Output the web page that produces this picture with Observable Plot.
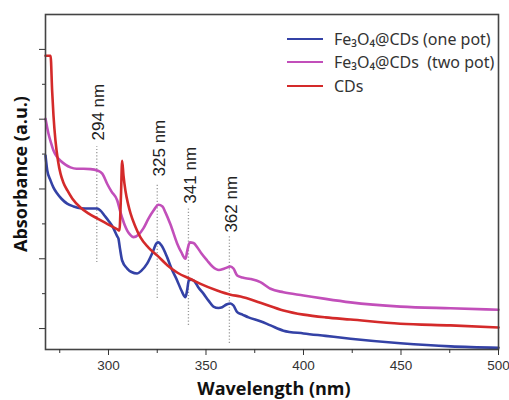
<!DOCTYPE html>
<html><head><meta charset="utf-8">
<script src="https://cdn.jsdelivr.net/npm/d3@7"></script>
<script src="https://cdn.jsdelivr.net/npm/@observablehq/plot@0.6"></script>
<style>
body{margin:0;background:#fff;}
#wrap{position:relative;width:509px;height:400px;}
#legend{position:absolute;left:287px;top:27px;font-family:"Noto Sans",sans-serif;font-size:16px;color:#333;}
.row{display:flex;align-items:center;height:23.5px;white-space:pre;}
.sw{width:36px;height:0;border-top:2.5px solid;margin-right:11px;}
</style></head><body><div id="wrap"></div>
<script>
// [wavelength (nm), absorbance (a.u.)]
const onePot = [[267.7,5.96],[268.6,5.53],[270.3,5.24],[271.8,5.04],[273.7,4.87],[275.9,4.72],[278.8,4.58],[282.1,4.50],[285.6,4.45],[290.8,4.44],[294.2,4.44],[295.9,4.38],[297.9,4.24],[300,4.09],[302.1,3.92],[304.5,3.64],[305.1,3.58],[305.9,3.29],[307.0,2.95],[309.6,2.72],[311.8,2.62],[314.7,2.58],[316.9,2.66],[319.8,2.86],[322.6,3.18],[324.6,3.44],[325.6,3.47],[327.2,3.38],[330.1,3.04],[332.3,2.72],[335.2,2.38],[337.4,2.09],[339.5,1.90],[340.3,2.09],[341.2,2.38],[342.3,2.40],[343.6,2.38],[346.2,2.17],[348.7,2.00],[351.3,1.80],[353.8,1.63],[356.4,1.59],[358.3,1.61],[360.5,1.69],[362.6,1.72],[364.1,1.66],[366.0,1.47],[368.7,1.40],[371.8,1.32],[377.9,1.21],[383.1,1.09],[389.7,0.94],[400,0.86],[411.3,0.79],[424.1,0.71],[449.7,0.58],[475.4,0.49],[500,0.45]];
const twoPot = [[267.7,7.01],[269.2,6.59],[270.5,6.33],[271.8,6.10],[273.3,5.94],[275.4,5.81],[277.9,5.70],[280.5,5.62],[283.6,5.58],[287.2,5.58],[290.8,5.57],[294.2,5.53],[296.8,5.44],[299.3,5.15],[301.5,4.93],[304.5,4.67],[306.2,4.32],[307.0,4.18],[308.2,3.98],[309.6,3.81],[311.3,3.68],[312.8,3.62],[315.4,3.69],[317.9,3.87],[320.5,4.15],[323.1,4.38],[325.6,4.55],[327.7,4.50],[329.2,4.33],[331.8,3.98],[335.2,3.44],[337.4,3.18],[339.5,3.00],[340.4,3.23],[341.7,3.47],[343.6,3.45],[345.5,3.33],[347.7,3.15],[350.6,2.95],[353.3,2.78],[356.6,2.68],[359.5,2.72],[362.6,2.78],[364.1,2.72],[366.0,2.52],[368.7,2.46],[372.8,2.42],[377.9,2.33],[383.1,2.14],[389.7,2.04],[400,1.95],[411.3,1.85],[424.1,1.75],[449.7,1.63],[475.4,1.58],[500,1.54]];
const cds = [[267.7,8.82],[270.3,8.82],[271.1,7.82],[271.8,7.10],[272.8,6.39],[274.1,5.81],[275.4,5.44],[276.9,5.18],[279.0,4.95],[281.5,4.72],[285.6,4.47],[289.7,4.30],[294.4,4.15],[298,4.04],[301.0,3.95],[304.6,3.84],[305.6,3.81],[306.4,4.81],[307.0,5.81],[307.7,5.38],[308.7,4.95],[310,4.58],[311.3,4.30],[313.8,3.92],[316.4,3.61],[320.5,3.32],[325.1,3.09],[330.3,2.81],[335.4,2.60],[342.1,2.42],[347.2,2.28],[355.7,2.09],[362.6,1.97],[367.7,1.92],[377.9,1.74],[389.7,1.52],[400,1.40],[411.3,1.32],[424.1,1.26],[449.7,1.14],[475.4,1.09],[500,1.03]];

const seriesNames = ["Fe₃O₄@CDs (one pot)", "Fe₃O₄@CDs  (two pot)", "CDs"];
const seriesData = [onePot, twoPot, cds];
const seriesColors = ["#3442a6", "#c24fba", "#d42a2a"];

// annotated peaks
const peakNm = [294, 325, 341, 362];
const peakLineTop = [6.21, 5.15, 4.44, 3.64];
const peakLineBottom = [2.89, 1.86, 1.09, 0.57];
const peakLabelBase = [6.39, 5.36, 4.58, 3.75];

const xMajorTicks = [300, 350, 400, 450, 500];
const xMinorTicks = [275, 325, 375, 425, 475];
const yMajorTicks = [1, 3, 5, 7, 9];
const yMinorTicks = [2, 4, 6, 8];
const xDomain = [267.7, 500];
const yDomain = [0.4, 10];

const rows = seriesData.flatMap((d, i) => d.map(([w, a]) => ({w, a, s: seriesNames[i]})));
const peaks = peakNm.map((nm, i) => ({nm, top: peakLineTop[i], bottom: peakLineBottom[i], label: peakLabelBase[i]}));

const chart = Plot.plot({
  width: 509, height: 400,
  marginLeft: 45, marginRight: 11, marginTop: 14, marginBottom: 51,
  style: {color: "#333", background: "#fff", fontFamily: "'Liberation Sans', Arial, sans-serif"},
  x: {domain: xDomain},
  y: {domain: yDomain},
  color: {domain: seriesNames, range: seriesColors},
  marks: [
    Plot.ruleX(peaks, {x: "nm", y1: "bottom", y2: "top", stroke: "#999", strokeWidth: 1.3, strokeDasharray: "1.2,2"}),
    Plot.text(peaks, {x: "nm", y: "label", text: d => `${d.nm} nm`, rotate: -90, textAnchor: "start", lineAnchor: "middle", dx: 2, fontSize: 17, fill: "#222"}),
    Plot.line(rows, {x: "w", y: "a", z: "s", stroke: "s", strokeWidth: 2.6, curve: "monotone-x"}),
    Plot.frame({stroke: "#444", strokeWidth: 1.6}),
    Plot.axisX({ticks: xMajorTicks, tickSize: 6, tickPadding: 5, fontSize: 13.5, label: null}),
    Plot.axisX({ticks: xMinorTicks, tickSize: 4, tickFormat: () => "", label: null}),
    Plot.axisY({ticks: yMajorTicks, tickSize: 6, tickFormat: () => "", label: null}),
    Plot.axisY({ticks: yMinorTicks, tickSize: 3, tickFormat: () => "", label: null}),
    Plot.text(["Wavelength (nm)"], {frameAnchor: "bottom", dy: 40, dx: 2, textAnchor: "middle", lineAnchor: "middle", fontSize: 18, fontWeight: "bold", fontFamily: "'Open Sans', sans-serif", fill: "#111"}),
    Plot.text(["Absorbance (a.u.)"], {frameAnchor: "left", dx: -24, dy: -8, rotate: -90, textAnchor: "middle", lineAnchor: "middle", fontSize: 18, fontWeight: "bold", fontFamily: "'Open Sans', sans-serif", fill: "#111"})
  ]
});
const wrap = document.getElementById("wrap");
wrap.appendChild(chart);
const legend = document.createElement("div");
legend.id = "legend";
seriesNames.forEach((n, i) => {
  const r = document.createElement("div"); r.className = "row";
  const sw = document.createElement("span"); sw.className = "sw"; sw.style.borderColor = seriesColors[i];
  const t = document.createElement("span"); t.textContent = n;
  r.appendChild(sw); r.appendChild(t); legend.appendChild(r);
});
wrap.appendChild(legend);
</script></body></html>
